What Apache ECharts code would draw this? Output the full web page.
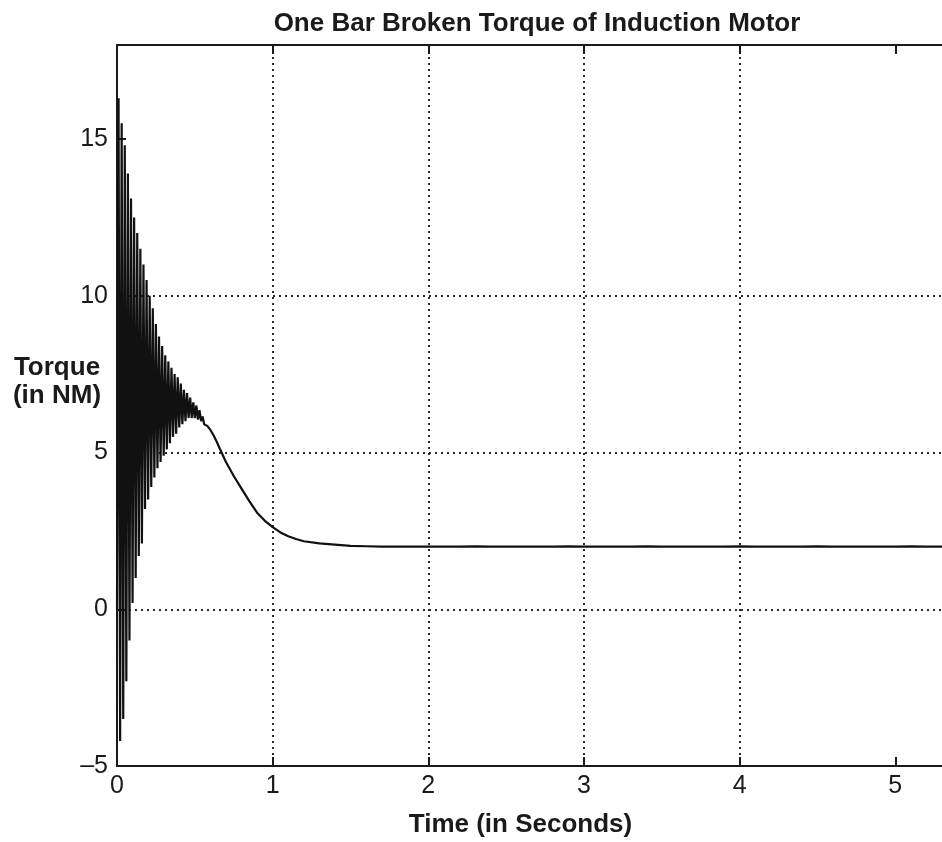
<!DOCTYPE html>
<html>
<head>
<meta charset="utf-8">
<title>One Bar Broken Torque of Induction Motor</title>
<script src="https://cdn.jsdelivr.net/npm/echarts@6/dist/echarts.min.js"></script>
<style>
  html, body { margin: 0; padding: 0; background: #ffffff; }
  #chart { width: 942px; height: 842px; }
</style>
</head>
<body>
<div id="chart"></div>
<script>
// Start-up transient: alternating peaks and troughs of the torque ripple (s, N·m)
const transientTime = [
  0.00, 0.01, 0.02, 0.03, 0.04, 0.05, 0.06, 0.07, 0.08, 0.09,
  0.10, 0.11, 0.12, 0.13, 0.14, 0.15, 0.16, 0.17, 0.18, 0.19,
  0.20, 0.21, 0.22, 0.23, 0.24, 0.25, 0.26, 0.27, 0.28, 0.29,
  0.30, 0.31, 0.32, 0.33, 0.34, 0.35, 0.36, 0.37, 0.38, 0.39,
  0.40, 0.41, 0.42, 0.43, 0.44, 0.45, 0.46, 0.47, 0.48, 0.49,
  0.50, 0.51, 0.52, 0.53, 0.54, 0.55, 0.56
];
const transientTorque = [
  0.0, 16.3, -4.2, 15.5, -3.5, 14.8, -2.3, 13.9, -1.0, 13.1,
  0.2, 12.5, 1.0, 12.0, 1.7, 11.5, 2.1, 11.0, 3.2, 10.5,
  3.5, 10.0, 3.9, 9.6, 4.2, 9.1, 4.5, 8.7, 4.7, 8.4,
  4.9, 8.1, 5.1, 7.9, 5.3, 7.7, 5.5, 7.5, 5.6, 7.4,
  5.8, 7.2, 5.9, 7.0, 6.0, 6.9, 6.1, 6.75, 6.1, 6.6,
  6.1, 6.5, 6.05, 6.35, 6.0, 6.15, 5.9
];

// Settling towards the load torque after the ripple dies out
const settleTime = [
  0.58, 0.60, 0.62, 0.64, 0.66, 0.70, 0.75, 0.80, 0.85, 0.90,
  0.95, 1.00, 1.05, 1.10, 1.15, 1.20, 1.30, 1.40, 1.50, 1.60
];
const settleTorque = [
  5.85, 5.72, 5.55, 5.35, 5.13, 4.7, 4.25, 3.85, 3.45, 3.08,
  2.82, 2.62, 2.45, 2.33, 2.24, 2.17, 2.1, 2.06, 2.02, 2.01
];

// Steady state with the small ripple caused by the broken rotor bar
const steadyTime = [
  1.7, 1.8, 1.9, 2.0, 2.1, 2.2, 2.3, 2.4, 2.5, 2.6,
  2.7, 2.8, 2.9, 3.0, 3.1, 3.2, 3.3, 3.4, 3.5, 3.6,
  3.7, 3.8, 3.9, 4.0, 4.1, 4.2, 4.3, 4.4, 4.5, 4.6,
  4.7, 4.8, 4.9, 5.0, 5.1, 5.2, 5.3
];
const steadyTorque = [
  2.0, 2.0, 2.0, 1.995, 2.0, 2.0, 2.005, 2.0, 2.0, 1.995,
  2.0, 2.0, 2.005, 2.0, 2.0, 1.995, 2.0, 2.005, 2.0, 2.0,
  1.995, 2.0, 2.0, 2.005, 2.0, 1.995, 2.0, 2.0, 2.005, 2.0,
  2.0, 1.995, 2.0, 2.0, 2.005, 2.0, 2.0
];

// Axis ranges and tick values
const xTicks = [0, 1, 2, 3, 4, 5];
const yTicks = [-5, 0, 5, 10, 15];
const xRange = [0, 5.3];
const yRange = [-5, 18];

const titleText = 'One Bar Broken Torque of Induction Motor';
const xAxisTitle = 'Time (in Seconds)';
const yAxisTitle = 'Torque\n(in NM)';

const allTime = transientTime.concat(settleTime, steadyTime);
const allTorque = transientTorque.concat(settleTorque, steadyTorque);
const points = allTime.map((t, i) => [t, allTorque[i]]);

const FONT = '"Liberation Sans", Arial, Helvetica, sans-serif';
const INK = '#1a1a1a';
const gridDots = { color: '#2a2a2a', width: 2, type: [2, 4] };
const frameTick = { show: true, inside: true, length: 9, lineStyle: { color: INK, width: 2 } };

const chart = echarts.init(document.getElementById('chart'), null, { renderer: 'canvas' });

chart.setOption({
  animation: false,
  backgroundColor: '#ffffff',
  title: {
    text: titleText,
    left: 532,
    textAlign: 'center',
    top: 6,
    textStyle: { fontFamily: FONT, fontSize: 26, fontWeight: 'bold', color: INK }
  },
  grid: {
    left: 117, top: 45, right: 0, bottom: 76,
    containLabel: false,
    outerBoundsMode: 'none'
  },
  xAxis: [
    {
      type: 'value',
      min: xRange[0],
      max: xRange[1],
      interval: 1,
      position: 'bottom',
      name: xAxisTitle,
      nameLocation: 'middle',
      nameGap: 46,
      nameTextStyle: { fontFamily: FONT, fontSize: 26, fontWeight: 'bold', color: INK, padding: [0, 18, 0, 0] },
      axisLine: { show: true, onZero: false, lineStyle: { color: INK, width: 2 } },
      axisTick: Object.assign({ customValues: xTicks }, frameTick),
      axisLabel: {
        margin: 8, fontFamily: FONT, fontSize: 25, color: INK,
        customValues: xTicks
      },
      splitLine: { show: true, showMinLine: false, showMaxLine: false, lineStyle: gridDots }
    },
    {
      type: 'value',
      min: xRange[0],
      max: xRange[1],
      interval: 1,
      position: 'top',
      axisLine: { show: true, onZero: false, lineStyle: { color: INK, width: 2 } },
      axisTick: Object.assign({ customValues: xTicks }, frameTick),
      axisLabel: { show: false },
      splitLine: { show: false }
    }
  ],
  yAxis: {
    type: 'value',
    min: yRange[0],
    max: yRange[1],
    interval: 5,
    axisLine: { show: true, onZero: false, lineStyle: { color: INK, width: 2 } },
    axisTick: Object.assign({ customValues: yTicks }, frameTick),
    axisLabel: {
      margin: 9, fontFamily: FONT, fontSize: 25, color: INK,
      customValues: yTicks,
      formatter: v => String(v).replace('-', '\u2013')
    },
    splitLine: { show: true, showMinLine: false, showMaxLine: false, lineStyle: gridDots }
  },
  graphic: [
    {
      type: 'text',
      x: 57,
      y: 382,
      style: {
        text: yAxisTitle,
        fontFamily: FONT,
        fontSize: 26,
        fontWeight: 'bold',
        fill: INK,
        align: 'center',
        verticalAlign: 'middle',
        lineHeight: 28
      }
    }
  ],
  series: [
    {
      type: 'line',
      xAxisIndex: 0,
      data: points,
      showSymbol: false,
      symbol: 'none',
      smooth: false,
      sampling: null,
      lineStyle: { color: '#111111', width: 2.2 },
      z: 5
    }
  ]
});
</script>
</body>
</html>
